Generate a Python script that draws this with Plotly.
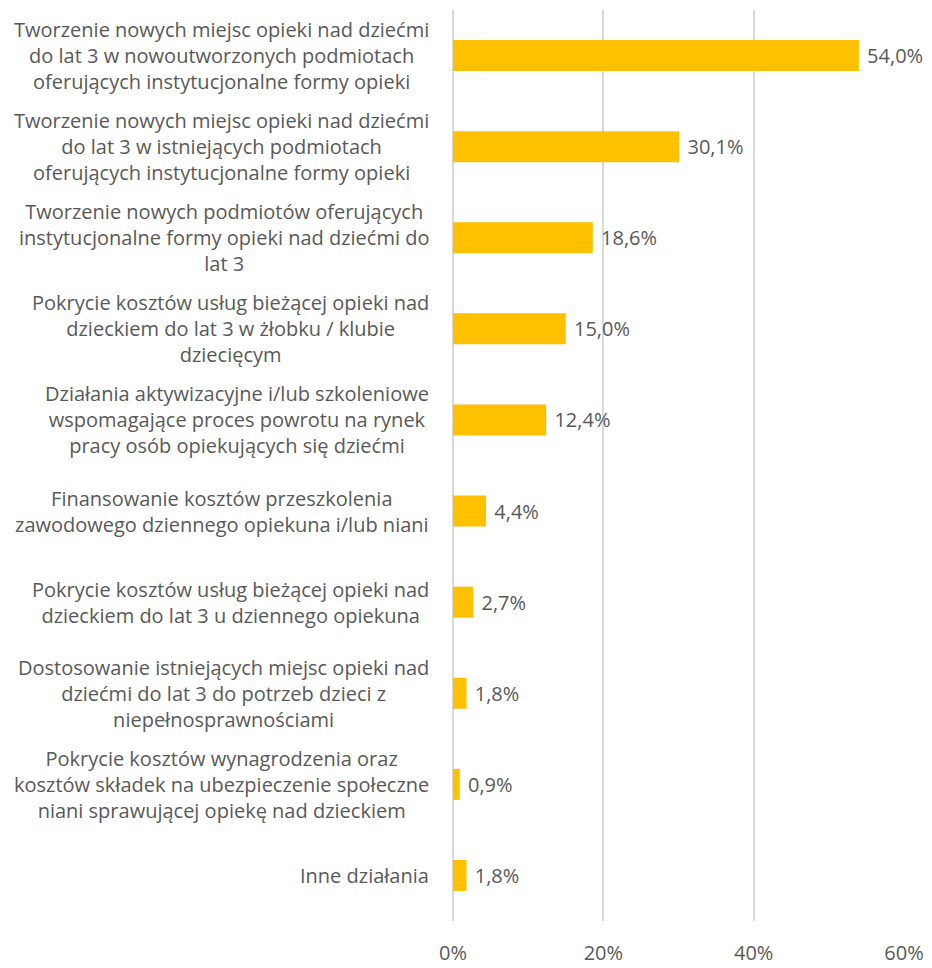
import plotly.graph_objects as go

# categories top to bottom, as shown in the chart
labels = [
    "Tworzenie nowych miejsc opieki nad dziećmi<br>do lat 3 w nowoutworzonych podmiotach<br>oferujących instytucjonalne formy opieki",
    "Tworzenie nowych miejsc opieki nad dziećmi<br>do lat 3 w istniejących podmiotach<br>oferujących instytucjonalne formy opieki",
    "Tworzenie nowych podmiotów oferujących<br>instytucjonalne formy opieki nad dziećmi do<br>lat 3",
    "Pokrycie kosztów usług bieżącej opieki nad<br>dzieckiem do lat 3 w żłobku / klubie<br>dziecięcym",
    "Działania aktywizacyjne i/lub szkoleniowe<br>wspomagające proces powrotu na rynek<br>pracy osób opiekujących się dziećmi",
    "Finansowanie kosztów przeszkolenia<br>zawodowego dziennego opiekuna i/lub niani",
    "Pokrycie kosztów usług bieżącej opieki nad<br>dzieckiem do lat 3 u dziennego opiekuna",
    "Dostosowanie istniejących miejsc opieki nad<br>dziećmi do lat 3 do potrzeb dzieci z<br>niepełnosprawnościami",
    "Pokrycie kosztów wynagrodzenia oraz<br>kosztów składek na ubezpieczenie społeczne<br>niani sprawującej opiekę nad dzieckiem",
    "Inne działania",
]
values = [54.0, 30.1, 18.6, 15.0, 12.4, 4.4, 2.7, 1.8, 0.9, 1.8]
x_ticks = [0, 20, 40, 60]
x_tick_labels = ["0%", "20%", "40%", "60%"]

grey = "#595959"
font_family = "Open Sans, Noto Sans, sans-serif"
fsize = 20

fig = go.Figure(go.Bar(
    y=labels,
    x=values,
    orientation="h",
    marker=dict(color="#FFC000", line=dict(width=0)),
    width=0.34,
    texttemplate="\u00a0%{x:.1f}%",
    textposition="outside",
    textfont=dict(size=fsize, color=grey, family=font_family),
    cliponaxis=False,
))

# category labels as centred multi-line annotations
for lab in labels:
    fig.add_annotation(
        x=0, xref="paper", y=lab, yref="y",
        text=lab, showarrow=False,
        xanchor="right", align="center", xshift=-22,
        font=dict(size=fsize, color=grey, family=font_family),
    )

fig.update_layout(
    width=932, height=960,
    margin=dict(l=445, r=36, t=2, b=41),
    plot_bgcolor="white", paper_bgcolor="white",
    separators=", ",
    showlegend=False,
    font=dict(family=font_family, color=grey, size=fsize),
    xaxis=dict(
        range=[0, 60], tickvals=x_ticks, ticktext=x_tick_labels,
        showgrid=True, gridcolor="#D9D9D9", gridwidth=1.5,
        zeroline=True, zerolinecolor="#D9D9D9", zerolinewidth=1.5,
        showline=False, ticks="", ticklabelstandoff=18,
        tickfont=dict(size=fsize, color=grey),
    ),
    yaxis=dict(
        categoryorder="array", categoryarray=labels[::-1],
        showticklabels=False, showgrid=False, zeroline=False, showline=False,
        ticks="",
    ),
)

fig.write_html("out.html")
